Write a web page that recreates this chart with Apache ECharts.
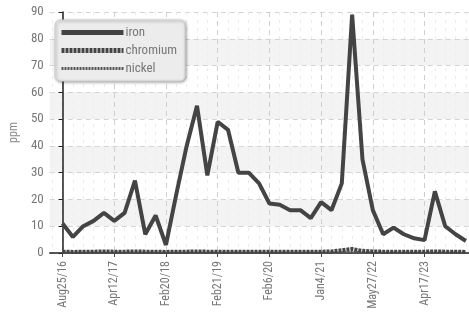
<!DOCTYPE html>
<html><head><meta charset="utf-8">
<script src="https://cdn.jsdelivr.net/npm/echarts@6/dist/echarts.min.js"></script>
<style>html,body{margin:0;padding:0;background:#fff}#c{width:469px;height:321px}</style>
</head><body><div id="c"></div>
<script>
const categories = ['Aug25/16','','','','','Apr12/17','','','','','Feb20/18','','','','','Feb21/19','','','','','Feb6/20','','','','','Jan4/21','','','','','May27/22','','','','','Apr17/23','','','',''];
const labelIdx = [0,5,10,15,20,25,30,35];
const iron = [11,6,10,12,15,12,15,27,7,14,3,22,40,55,29,49,46,30,30,26,18.5,18,16,16,13,19,16,26,89,35,16,7,9.5,7,5.5,4.8,23,10,7,4.5];
const chromium = [0.5,0.4,0.5,0.5,0.6,0.5,0.5,0.6,0.5,0.5,0.4,0.5,0.5,0.6,0.5,0.5,0.5,0.5,0.5,0.5,0.5,0.5,0.5,0.5,0.5,0.5,0.6,1,1.5,0.8,0.6,0.5,0.5,0.5,0.5,0.5,0.6,0.5,0.5,0.4];
const nickel = [0.1,0.1,0.1,0.1,0.1,0.1,0.1,0.1,0.1,0.1,0.1,0.1,0.1,0.1,0.1,0.1,0.1,0.1,0.1,0.1,0.1,0.1,0.1,0.1,0.1,0.1,0.1,0.2,0.3,0.2,0.1,0.1,0.1,0.1,0.1,0.1,0.1,0.1,0.1,0.1];

const FONT = "'Roboto Condensed','DejaVu Sans Condensed',Roboto,sans-serif";
const pairs = a => a.map((v,i)=>[i,v]);

const chart = echarts.init(document.getElementById('c'), null, {renderer:'canvas'});
chart.setOption({
  animation:false,
  backgroundColor:'#fff',
  grid:{left:45, right:0, top:12, bottom:68, containLabel:false},
  legend:{
    orient:'vertical', left:55, top:20,
    data:[
      {name:'iron', lineStyle:{width:5, color:'#444'}},
      {name:'chromium', lineStyle:{width:5, type:[3,1], color:'#444'}},
      {name:'nickel', lineStyle:{width:3, type:[2,1], color:'#555'}}
    ],
    itemWidth:62, itemHeight:12, itemGap:5,
    padding:[6,8,6,4],
    itemStyle:{opacity:0},
    backgroundColor:'#ececec', borderColor:'#d0d0d0', borderWidth:1, borderRadius:5,
    shadowBlur:3, shadowColor:'rgba(0,0,0,0.35)', shadowOffsetX:1, shadowOffsetY:1,
    textStyle:{color:'#777', fontSize:13, fontFamily:FONT, padding:[0,0,0,-3]}
  },
  xAxis:{
    type:'value', min:-1.24, max:39.3, splitNumber:8,
    axisLine:{onZero:false, lineStyle:{color:'#222', width:1.5}},
    axisTick:{show:true, length:4, customValues:labelIdx, lineStyle:{color:'#444'}},
    axisLabel:{customValues:labelIdx, rotate:90, color:'#777', fontSize:12, fontFamily:FONT, margin:8,
      formatter:v=>categories[Math.round(v)]},
    splitLine:{show:true, lineStyle:{color:'#cfcfcf', type:[5,4], width:1}},
    minorTick:{show:false, splitNumber:5},
    minorSplitLine:{show:true, lineStyle:{color:'#ebebeb', type:[3,5], width:1}}
  },
  yAxis:{
    type:'value', min:0, max:90, interval:10,
    name:'ppm', nameLocation:'middle', nameGap:28, nameRotate:90,
    nameTextStyle:{color:'#888', fontSize:12, fontFamily:FONT},
    axisLine:{show:true, lineStyle:{color:'#222', width:1.5}},
    axisTick:{show:true, length:4, lineStyle:{color:'#222'}},
    axisLabel:{color:'#777', fontSize:13, fontFamily:FONT, margin:6},
    splitLine:{show:true, lineStyle:{color:'#d4d4d4', type:[5,4]}},
    splitArea:{show:true, areaStyle:{color:['rgba(255,255,255,0)','#f3f3f3']}}
  },
  series:[
    {name:'iron', type:'line', data:pairs(iron), symbol:'none', z:5,
     lineStyle:{color:'#444', width:4}, itemStyle:{color:'#444'}},
    {name:'chromium', type:'line', data:pairs(chromium), symbol:'none', z:4,
     lineStyle:{color:'#444', width:4, type:[3,1]}, itemStyle:{color:'#444'}},
    {name:'nickel', type:'line', data:pairs(nickel), symbol:'none', z:3,
     lineStyle:{color:'#555', width:2.5, type:[2,1]}, itemStyle:{color:'#555'}}
  ]
});
</script></body></html>
